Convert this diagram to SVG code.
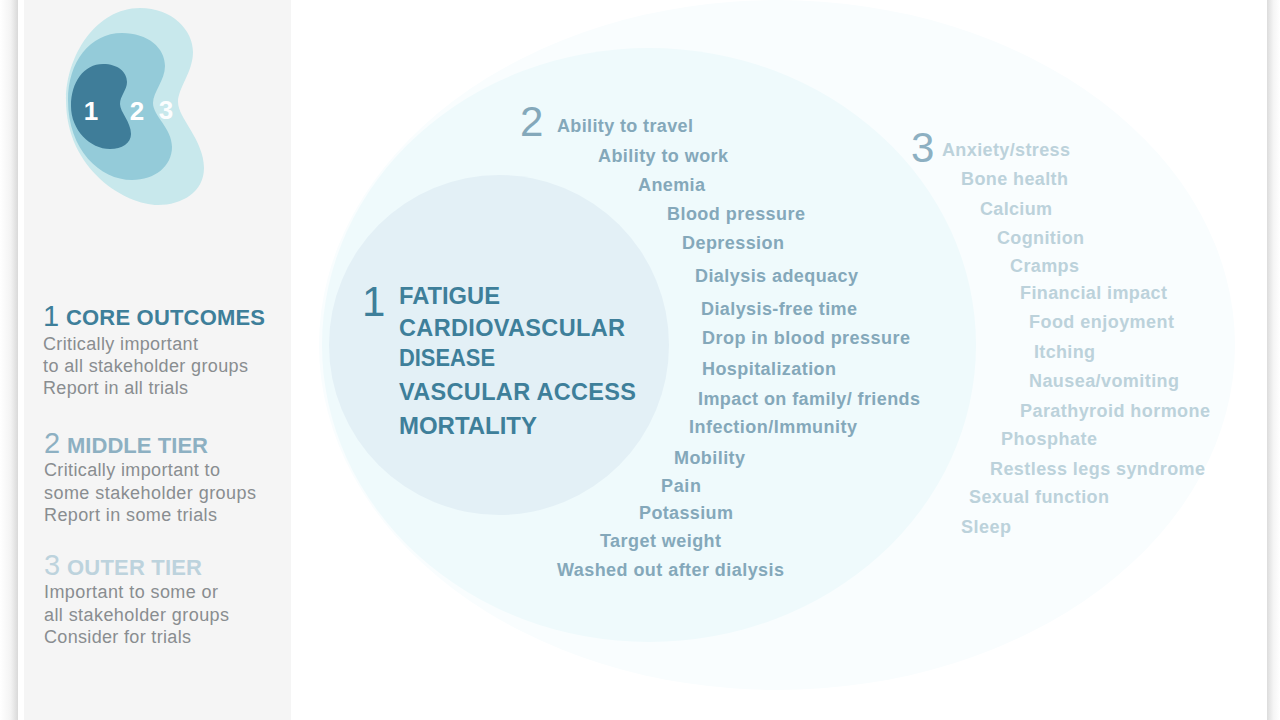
<svg xmlns="http://www.w3.org/2000/svg" width="1280" height="720" viewBox="0 0 1280 720">
<defs>
<linearGradient id="shL" x1="0" x2="1" y1="0" y2="0"><stop offset="0" stop-color="#ffffff"/><stop offset="0.6" stop-color="#f3f3f3"/><stop offset="1" stop-color="#d9d9d9"/></linearGradient>
<linearGradient id="shR" x1="0" x2="1" y1="0" y2="0"><stop offset="0" stop-color="#dcdcdc"/><stop offset="0.5" stop-color="#f5f5f5"/><stop offset="1" stop-color="#ffffff"/></linearGradient>
</defs>
<style>
text{font-family:"Liberation Sans",Arial,sans-serif}
.m{font-size:18px;font-weight:700;fill:#84a8ba}
.o{font-size:18px;font-weight:700;fill:#bcd2db}
.c{font-size:23.5px;font-weight:700;fill:#3e7f9a}
.b{font-size:18px;fill:#898d90}
.h{font-size:22px;font-weight:700}
.n{font-size:29px}
.w{font-size:26px;font-weight:700;fill:#ffffff}
</style>
<rect width="1280" height="720" fill="#ffffff"/>
<rect x="0" width="18" height="720" fill="url(#shL)"/>
<rect x="1267" width="13" height="720" fill="url(#shR)"/>
<rect x="24" width="267" height="720" fill="#f5f5f5"/>
<g id="tier3-region"><ellipse cx="777" cy="345" rx="458" ry="345" fill="#f9fdfe"/></g>
<g id="tier2-region"><ellipse cx="649" cy="345" rx="327" ry="297" fill="#effafc"/></g>
<g id="tier1-region"><circle cx="499" cy="345" r="170" fill="#e3f0f6"/></g>
<g id="kidney">
<path d="M140 8C172 8 193 30 193 52C193 72 178 88 178 102C178 118 204 140 204 168C204 192 182 205 158 205C126 205 66 170 66 100C66 56 96 8 140 8Z" fill="#c8e8ec"/>
<path d="M122 33C148 33 165 48 165 66C165 80 153 92 153 103C153 116 172 128 172 147C172 166 155 180 132 180C100 180 68 150 68 100C68 62 90 33 122 33Z" fill="#94cbd9"/>
<path d="M103 64C118 64 127 72 127 82C127 90 120 96 120 104C120 112 131 122 131 134C131 143 122 149 110 149C90 149 71 130 71 106C71 82 84 64 103 64Z" fill="#3f7d99"/>
<text class="w" x="91" y="120" text-anchor="middle">1</text>
<text class="w" x="137" y="120" text-anchor="middle">2</text>
<text class="w" x="166" y="119" text-anchor="middle" opacity="0.95">3</text>
</g>
<g id="legend-core">
<text class="n" x="43" y="326" fill="#3e7f9a">1</text>
<text class="h" x="66" y="325" fill="#3e7f9a" textLength="199">CORE OUTCOMES</text>
<text class="b" x="43" y="350" textLength="155">Critically important</text>
<text class="b" x="43" y="372" textLength="205">to all stakeholder groups</text>
<text class="b" x="43" y="394" textLength="145">Report in all trials</text>
</g>
<g id="legend-middle">
<text class="n" x="44" y="453" fill="#8db0c2">2</text>
<text class="h" x="67" y="453" fill="#8db0c2" textLength="141">MIDDLE TIER</text>
<text class="b" x="44" y="476" textLength="176">Critically important to</text>
<text class="b" x="44" y="499" textLength="212">some stakeholder groups</text>
<text class="b" x="44" y="521" textLength="173">Report in some trials</text>
</g>
<g id="legend-outer">
<text class="n" x="44" y="575" fill="#bdd3dd">3</text>
<text class="h" x="67" y="575" fill="#bdd3dd" textLength="135">OUTER TIER</text>
<text class="b" x="44" y="598" textLength="174">Important to some or</text>
<text class="b" x="44" y="621" textLength="185">all stakeholder groups</text>
<text class="b" x="44" y="643" textLength="147">Consider for trials</text>
</g>
<g id="core-list">
<text x="362" y="316" font-size="42" fill="#3e7f9a">1</text>
<text class="c" x="399" y="304" textLength="101" lengthAdjust="spacingAndGlyphs">FATIGUE</text>
<text class="c" x="399" y="336" textLength="226">CARDIOVASCULAR</text>
<text class="c" x="399" y="366" textLength="96" lengthAdjust="spacingAndGlyphs">DISEASE</text>
<text class="c" x="399" y="400" textLength="237">VASCULAR ACCESS</text>
<text class="c" x="399" y="434" textLength="138" lengthAdjust="spacingAndGlyphs">MORTALITY</text>
</g>
<g id="middle-list">
<text x="520" y="136" font-size="42" fill="#84a8ba">2</text>
<text class="m" x="557" y="132" textLength="136">Ability to travel</text>
<text class="m" x="598" y="162" textLength="130">Ability to work</text>
<text class="m" x="638" y="191" textLength="67">Anemia</text>
<text class="m" x="667" y="220" textLength="138">Blood pressure</text>
<text class="m" x="682" y="249" textLength="102">Depression</text>
<text class="m" x="695" y="282" textLength="163">Dialysis adequacy</text>
<text class="m" x="701" y="315" textLength="156">Dialysis-free time</text>
<text class="m" x="702" y="344" textLength="208">Drop in blood pressure</text>
<text class="m" x="702" y="375" textLength="134">Hospitalization</text>
<text class="m" x="698" y="405" textLength="222">Impact on family/ friends</text>
<text class="m" x="689" y="433" textLength="168">Infection/Immunity</text>
<text class="m" x="674" y="464" textLength="71">Mobility</text>
<text class="m" x="661" y="492" textLength="40">Pain</text>
<text class="m" x="639" y="519" textLength="94">Potassium</text>
<text class="m" x="600" y="547" textLength="121">Target weight</text>
<text class="m" x="557" y="576" textLength="227">Washed out after dialysis</text>
</g>
<g id="outer-list">
<text x="911" y="162" font-size="42" fill="#8db0c2">3</text>
<text class="o" x="942" y="156" textLength="128">Anxiety/stress</text>
<text class="o" x="961" y="185" textLength="107">Bone health</text>
<text class="o" x="980" y="215" textLength="72">Calcium</text>
<text class="o" x="997" y="244" textLength="87">Cognition</text>
<text class="o" x="1010" y="272" textLength="69">Cramps</text>
<text class="o" x="1020" y="299" textLength="147">Financial impact</text>
<text class="o" x="1029" y="328" textLength="145">Food enjoyment</text>
<text class="o" x="1034" y="358" textLength="61">Itching</text>
<text class="o" x="1029" y="387" textLength="150">Nausea/vomiting</text>
<text class="o" x="1020" y="417" textLength="190">Parathyroid hormone</text>
<text class="o" x="1001" y="445" textLength="96">Phosphate</text>
<text class="o" x="990" y="475" textLength="215">Restless legs syndrome</text>
<text class="o" x="969" y="503" textLength="140">Sexual function</text>
<text class="o" x="961" y="533" textLength="50">Sleep</text>
</g>
</svg>
